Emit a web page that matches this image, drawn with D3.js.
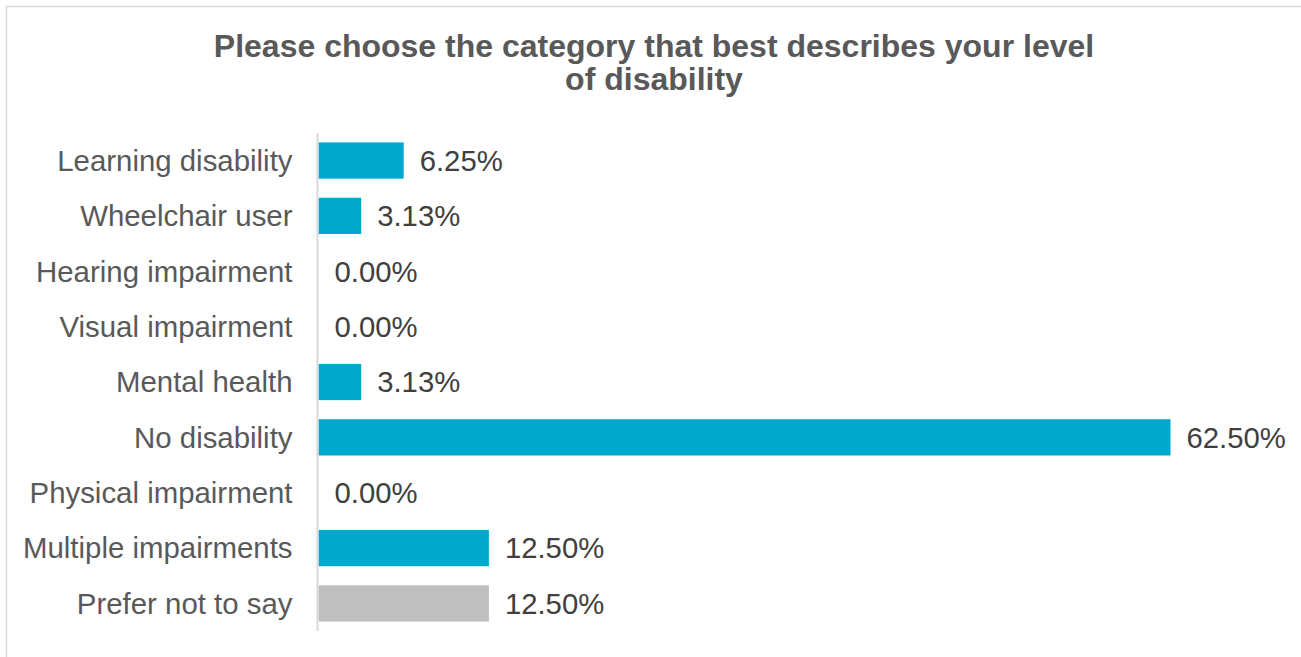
<!DOCTYPE html>
<html>
<head>
<meta charset="utf-8">
<script src="https://cdn.jsdelivr.net/npm/d3@7"></script>
<style>
  html, body { margin: 0; padding: 0; background: #fff; }
  svg { display: block; font-family: Arial, "Liberation Sans", sans-serif; }
</style>
</head>
<body>
<svg id="chart" width="1301" height="657"></svg>
<script>
// Survey answers, top to bottom
const categories = [
  "Learning disability", "Wheelchair user", "Hearing impairment",
  "Visual impairment", "Mental health", "No disability",
  "Physical impairment", "Multiple impairments", "Prefer not to say"
];
const percentages = [6.25, 3.13, 0, 0, 3.13, 62.5, 0, 12.5, 12.5];
const barColors = ["#00A8CC", "#00A8CC", "#00A8CC", "#00A8CC", "#00A8CC",
                   "#00A8CC", "#00A8CC", "#00A8CC", "#BFBFBF"];
const titleLines = ["Please choose the category that best describes your level", "of disability"];

const svg = d3.select("#chart");

// Chart frame
svg.append("rect")
  .attr("x", 6.5).attr("y", 6.5)
  .attr("width", 1310).attr("height", 670)
  .attr("fill", "none").attr("stroke", "#d9d9d9").attr("stroke-width", 1.5);

// Title
svg.append("text")
  .attr("text-anchor", "middle")
  .attr("font-size", 32).attr("font-weight", "bold").attr("fill", "#595959")
  .selectAll("tspan").data(titleLines).join("tspan")
  .attr("x", 654).attr("y", (d, i) => 57 + i * 33)
  .text(d => d);

const x = d3.scaleLinear().domain([0, 62.5]).range([318.5, 1170.5]);
const y = d3.scaleBand().domain(categories).range([133, 631]).paddingInner(0.345).paddingOuter(0.17);

// Bars
svg.append("g").selectAll("rect").data(categories).join("rect")
  .attr("x", x(0))
  .attr("y", d => y(d))
  .attr("width", (d, i) => x(percentages[i]) - x(0))
  .attr("height", y.bandwidth())
  .attr("fill", (d, i) => barColors[i]);

// Category axis
const axis = svg.append("g")
  .attr("transform", `translate(${x(0) - 1},0)`)
  .call(d3.axisLeft(y).tickSize(0).tickPadding(25));
axis.select(".domain").remove();
axis.append("line")
  .attr("x1", 0).attr("x2", 0).attr("y1", 133).attr("y2", 631)
  .attr("stroke", "#d9d9d9").attr("stroke-width", 2);
axis.selectAll(".tick text")
  .attr("font-size", 29.4).attr("fill", "#595959")
  .attr("font-family", "Arial, 'Liberation Sans', sans-serif")
  .attr("dy", "0.35em");

// Value labels
svg.append("g").selectAll("text").data(categories).join("text")
  .attr("x", (d, i) => x(percentages[i]) + 16)
  .attr("y", d => y(d) + y.bandwidth() / 2)
  .attr("dy", "0.35em")
  .attr("font-size", 29.3).attr("fill", "#404040")
  .text((d, i) => percentages[i].toFixed(2) + "%");
</script>
</body>
</html>
